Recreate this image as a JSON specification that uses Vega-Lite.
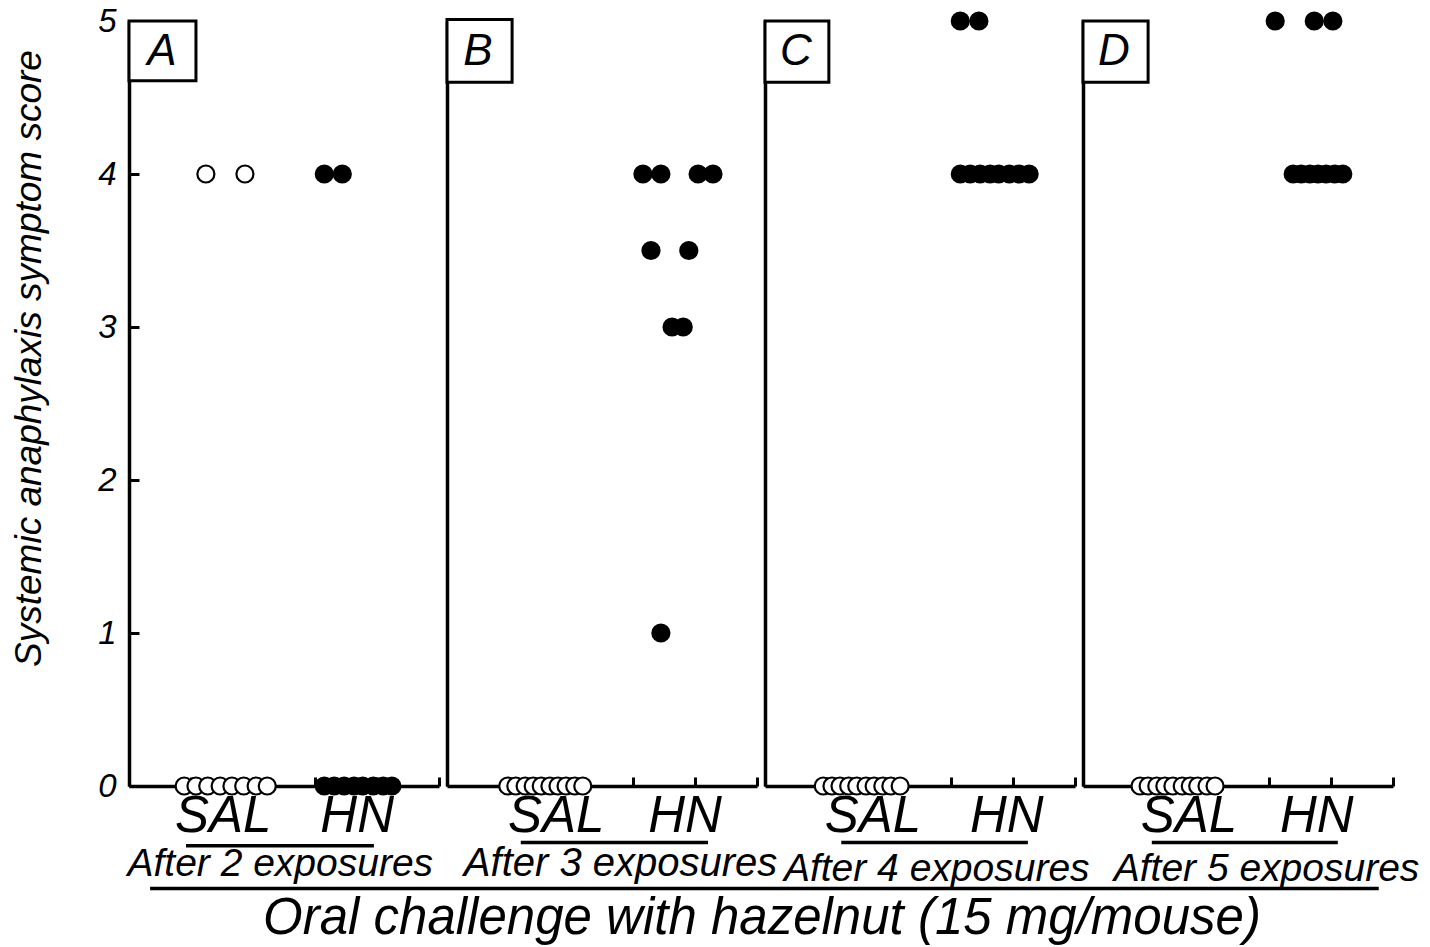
{
  "$schema": "https://vega.github.io/schema/vega-lite/v6.json",
  "autosize": {"type": "pad"},
  "padding": {"left": 10, "top": 5, "right": 0, "bottom": 0},
  "background": "white",
  "spacing": 8,
  "bounds": "flush",
  "config": {
    "view": {"stroke": null},
    "axis": {"grid": false, "domainColor": "black", "domainWidth": 3.5, "tickColor": "black", "tickWidth": 3, "labelColor": "black", "titleColor": "black"}
  },
  "datasets": {
    "points": [
      {"panel": "A", "group": "SAL", "x": 1.24, "score": 4},
      {"panel": "A", "group": "SAL", "x": 1.87, "score": 4},
      {"panel": "A", "group": "SAL", "x": 0.89, "score": 0},
      {"panel": "A", "group": "SAL", "x": 1.08, "score": 0},
      {"panel": "A", "group": "SAL", "x": 1.27, "score": 0},
      {"panel": "A", "group": "SAL", "x": 1.47, "score": 0},
      {"panel": "A", "group": "SAL", "x": 1.66, "score": 0},
      {"panel": "A", "group": "SAL", "x": 1.85, "score": 0},
      {"panel": "A", "group": "SAL", "x": 2.05, "score": 0},
      {"panel": "A", "group": "SAL", "x": 2.23, "score": 0},
      {"panel": "A", "group": "HN", "x": 3.15, "score": 4},
      {"panel": "A", "group": "HN", "x": 3.44, "score": 4},
      {"panel": "A", "group": "HN", "x": 3.15, "score": 0},
      {"panel": "A", "group": "HN", "x": 3.31, "score": 0},
      {"panel": "A", "group": "HN", "x": 3.47, "score": 0},
      {"panel": "A", "group": "HN", "x": 3.63, "score": 0},
      {"panel": "A", "group": "HN", "x": 3.77, "score": 0},
      {"panel": "A", "group": "HN", "x": 3.94, "score": 0},
      {"panel": "A", "group": "HN", "x": 4.10, "score": 0},
      {"panel": "A", "group": "HN", "x": 4.24, "score": 0},
      {"panel": "B", "group": "SAL", "x": 0.98, "score": 0},
      {"panel": "B", "group": "SAL", "x": 1.11, "score": 0},
      {"panel": "B", "group": "SAL", "x": 1.26, "score": 0},
      {"panel": "B", "group": "SAL", "x": 1.39, "score": 0},
      {"panel": "B", "group": "SAL", "x": 1.52, "score": 0},
      {"panel": "B", "group": "SAL", "x": 1.66, "score": 0},
      {"panel": "B", "group": "SAL", "x": 1.79, "score": 0},
      {"panel": "B", "group": "SAL", "x": 1.92, "score": 0},
      {"panel": "B", "group": "SAL", "x": 2.06, "score": 0},
      {"panel": "B", "group": "SAL", "x": 2.19, "score": 0},
      {"panel": "B", "group": "HN", "x": 3.16, "score": 4},
      {"panel": "B", "group": "HN", "x": 3.45, "score": 4},
      {"panel": "B", "group": "HN", "x": 4.05, "score": 4},
      {"panel": "B", "group": "HN", "x": 4.29, "score": 4},
      {"panel": "B", "group": "HN", "x": 3.29, "score": 3.5},
      {"panel": "B", "group": "HN", "x": 3.90, "score": 3.5},
      {"panel": "B", "group": "HN", "x": 3.63, "score": 3},
      {"panel": "B", "group": "HN", "x": 3.81, "score": 3},
      {"panel": "B", "group": "HN", "x": 3.45, "score": 1},
      {"panel": "C", "group": "SAL", "x": 0.94, "score": 0},
      {"panel": "C", "group": "SAL", "x": 1.08, "score": 0},
      {"panel": "C", "group": "SAL", "x": 1.21, "score": 0},
      {"panel": "C", "group": "SAL", "x": 1.35, "score": 0},
      {"panel": "C", "group": "SAL", "x": 1.48, "score": 0},
      {"panel": "C", "group": "SAL", "x": 1.63, "score": 0},
      {"panel": "C", "group": "SAL", "x": 1.76, "score": 0},
      {"panel": "C", "group": "SAL", "x": 1.90, "score": 0},
      {"panel": "C", "group": "SAL", "x": 2.03, "score": 0},
      {"panel": "C", "group": "SAL", "x": 2.18, "score": 0},
      {"panel": "C", "group": "HN", "x": 3.15, "score": 5},
      {"panel": "C", "group": "HN", "x": 3.45, "score": 5},
      {"panel": "C", "group": "HN", "x": 3.15, "score": 4},
      {"panel": "C", "group": "HN", "x": 3.31, "score": 4},
      {"panel": "C", "group": "HN", "x": 3.47, "score": 4},
      {"panel": "C", "group": "HN", "x": 3.63, "score": 4},
      {"panel": "C", "group": "HN", "x": 3.77, "score": 4},
      {"panel": "C", "group": "HN", "x": 3.94, "score": 4},
      {"panel": "C", "group": "HN", "x": 4.10, "score": 4},
      {"panel": "C", "group": "HN", "x": 4.26, "score": 4},
      {"panel": "D", "group": "SAL", "x": 0.92, "score": 0},
      {"panel": "D", "group": "SAL", "x": 1.05, "score": 0},
      {"panel": "D", "group": "SAL", "x": 1.19, "score": 0},
      {"panel": "D", "group": "SAL", "x": 1.32, "score": 0},
      {"panel": "D", "group": "SAL", "x": 1.45, "score": 0},
      {"panel": "D", "group": "SAL", "x": 1.60, "score": 0},
      {"panel": "D", "group": "SAL", "x": 1.73, "score": 0},
      {"panel": "D", "group": "SAL", "x": 1.85, "score": 0},
      {"panel": "D", "group": "SAL", "x": 2.00, "score": 0},
      {"panel": "D", "group": "SAL", "x": 2.13, "score": 0},
      {"panel": "D", "group": "HN", "x": 3.10, "score": 5},
      {"panel": "D", "group": "HN", "x": 3.73, "score": 5},
      {"panel": "D", "group": "HN", "x": 4.03, "score": 5},
      {"panel": "D", "group": "HN", "x": 3.39, "score": 4},
      {"panel": "D", "group": "HN", "x": 3.52, "score": 4},
      {"panel": "D", "group": "HN", "x": 3.66, "score": 4},
      {"panel": "D", "group": "HN", "x": 3.79, "score": 4},
      {"panel": "D", "group": "HN", "x": 3.92, "score": 4},
      {"panel": "D", "group": "HN", "x": 4.06, "score": 4},
      {"panel": "D", "group": "HN", "x": 4.19, "score": 4}
    ],
    "labels": [
      {"panel": "A", "label": "SAL", "x": 1.52},
      {"panel": "A", "label": "HN", "x": 3.68},
      {"panel": "B", "label": "SAL", "x": 1.76},
      {"panel": "B", "label": "HN", "x": 3.84},
      {"panel": "C", "label": "SAL", "x": 1.74},
      {"panel": "C", "label": "HN", "x": 3.90},
      {"panel": "D", "label": "SAL", "x": 1.71},
      {"panel": "D", "label": "HN", "x": 3.77}
    ]
  },
  "hconcat": [
    {
      "width": 310, "height": 765,
      "layer": [
        {
          "data": {"name": "points"},
          "transform": [{"filter": "datum.panel === 'A'"}],
          "mark": {"type": "circle", "size": 290, "stroke": "black", "strokeWidth": 2.2, "opacity": 1},
          "encoding": {
            "x": {"field": "x", "type": "quantitative", "scale": {"domain": [0, 5], "nice": false, "zero": false},
                  "axis": {"values": [0, 1, 2, 3, 4, 5], "labels": false, "title": null, "tickSize": -9}},
            "y": {"field": "score", "type": "quantitative", "scale": {"domain": [0, 5], "nice": false},
                  "axis": {"values": [0, 1, 2, 3, 4, 5], "format": "d", "tickSize": -10, "labelFont": "Liberation Sans", "labelFontStyle": "italic", "labelFontSize": 33, "labelPadding": 23,
                           "title": "Systemic anaphylaxis symptom score", "titleFont": "Liberation Sans", "titleFontStyle": "italic", "titleFontWeight": "normal", "titleFontSize": 37, "titlePadding": 49, "titleY": 337}},
            "fill": {"field": "group", "type": "nominal", "scale": {"domain": ["SAL", "HN"], "range": ["white", "black"]}, "legend": null}
          }
        },
        {
          "data": {"values": [{}]},
          "mark": {"type": "rect", "fill": "white", "stroke": "black", "strokeWidth": 3},
          "encoding": {"x": {"datum": 0}, "x2": {"datum": 1.08}, "y": {"datum": 5}, "y2": {"datum": 4.61}}
        },
        {
          "data": {"values": [{}]},
          "mark": {"type": "text", "text": "A", "font": "Liberation Sans", "fontStyle": "italic", "fontSize": 44, "align": "center", "baseline": "middle", "color": "black"},
          "encoding": {"x": {"datum": 0.53}, "y": {"datum": 4.8}}
        },
        {
          "data": {"name": "labels"},
          "transform": [{"filter": "datum.panel === 'A'"}],
          "mark": {"type": "text", "font": "Liberation Sans", "fontStyle": "italic", "fontSize": 51, "align": "center", "baseline": "middle", "color": "black"},
          "encoding": {"x": {"field": "x", "type": "quantitative"}, "y": {"datum": -0.2}, "text": {"field": "label"}}
        },
        {
          "data": {"values": [{}]},
          "mark": {"type": "rule", "color": "black", "strokeWidth": 3.5},
          "encoding": {"x": {"datum": 0.92}, "x2": {"datum": 3.95}, "y": {"datum": -0.39}}
        },
        {
          "data": {"values": [{}]},
          "mark": {"type": "text", "text": "After 2 exposures", "font": "Liberation Sans", "fontStyle": "italic", "fontSize": 39, "align": "center", "baseline": "middle", "color": "black"},
          "encoding": {"x": {"datum": 2.44}, "y": {"datum": -0.51}}
        },
        {
          "data": {"values": [{}]},
          "mark": {"type": "rule", "color": "black", "strokeWidth": 3.5},
          "encoding": {"x": {"datum": 0.34}, "x2": {"datum": 5.13}, "y": {"datum": -0.67}}
        }
      ]
    },
    {
      "width": 310, "height": 765,
      "layer": [
        {
          "data": {"name": "points"},
          "transform": [{"filter": "datum.panel === 'B'"}],
          "mark": {"type": "circle", "size": 290, "stroke": "black", "strokeWidth": 2.2, "opacity": 1},
          "encoding": {
            "x": {"field": "x", "type": "quantitative", "scale": {"domain": [0, 5], "nice": false, "zero": false},
                  "axis": {"values": [0, 1, 2, 3, 4, 5], "labels": false, "title": null, "tickSize": -9}},
            "y": {"field": "score", "type": "quantitative", "scale": {"domain": [0, 5], "nice": false},
                  "axis": {"labels": false, "ticks": false, "title": null}},
            "fill": {"field": "group", "type": "nominal", "scale": {"domain": ["SAL", "HN"], "range": ["white", "black"]}, "legend": null}
          }
        },
        {
          "data": {"values": [{}]},
          "mark": {"type": "rect", "fill": "white", "stroke": "black", "strokeWidth": 3},
          "encoding": {"x": {"datum": 0}, "x2": {"datum": 1.05}, "y": {"datum": 5.01}, "y2": {"datum": 4.6}}
        },
        {
          "data": {"values": [{}]},
          "mark": {"type": "text", "text": "B", "font": "Liberation Sans", "fontStyle": "italic", "fontSize": 44, "align": "center", "baseline": "middle", "color": "black"},
          "encoding": {"x": {"datum": 0.5}, "y": {"datum": 4.8}}
        },
        {
          "data": {"name": "labels"},
          "transform": [{"filter": "datum.panel === 'B'"}],
          "mark": {"type": "text", "font": "Liberation Sans", "fontStyle": "italic", "fontSize": 51, "align": "center", "baseline": "middle", "color": "black"},
          "encoding": {"x": {"field": "x", "type": "quantitative"}, "y": {"datum": -0.2}, "text": {"field": "label"}}
        },
        {
          "data": {"values": [{}]},
          "mark": {"type": "rule", "color": "black", "strokeWidth": 3.5},
          "encoding": {"x": {"datum": 1.19}, "x2": {"datum": 4.21}, "y": {"datum": -0.37}}
        },
        {
          "data": {"values": [{}]},
          "mark": {"type": "text", "text": "After 3 exposures", "font": "Liberation Sans", "fontStyle": "italic", "fontSize": 40, "align": "center", "baseline": "middle", "color": "black"},
          "encoding": {"x": {"datum": 2.8}, "y": {"datum": -0.51}}
        },
        {
          "data": {"values": [{}]},
          "mark": {"type": "rule", "color": "black", "strokeWidth": 3.5},
          "encoding": {"x": {"datum": 0}, "x2": {"datum": 5.13}, "y": {"datum": -0.67}}
        },
        {
          "data": {"values": [{}]},
          "mark": {"type": "text", "text": "Oral challenge with hazelnut (15 mg/mouse)", "font": "Liberation Sans", "fontStyle": "italic", "fontSize": 51, "align": "center", "baseline": "middle", "color": "black"},
          "encoding": {"x": {"datum": 5.08}, "y": {"datum": -0.87}}
        }
      ]
    },
    {
      "width": 310, "height": 765,
      "layer": [
        {
          "data": {"name": "points"},
          "transform": [{"filter": "datum.panel === 'C'"}],
          "mark": {"type": "circle", "size": 290, "stroke": "black", "strokeWidth": 2.2, "opacity": 1},
          "encoding": {
            "x": {"field": "x", "type": "quantitative", "scale": {"domain": [0, 5], "nice": false, "zero": false},
                  "axis": {"values": [0, 1, 2, 3, 4, 5], "labels": false, "title": null, "tickSize": -9}},
            "y": {"field": "score", "type": "quantitative", "scale": {"domain": [0, 5], "nice": false},
                  "axis": {"labels": false, "ticks": false, "title": null}},
            "fill": {"field": "group", "type": "nominal", "scale": {"domain": ["SAL", "HN"], "range": ["white", "black"]}, "legend": null}
          }
        },
        {
          "data": {"values": [{}]},
          "mark": {"type": "rect", "fill": "white", "stroke": "black", "strokeWidth": 3},
          "encoding": {"x": {"datum": 0}, "x2": {"datum": 1.03}, "y": {"datum": 5}, "y2": {"datum": 4.6}}
        },
        {
          "data": {"values": [{}]},
          "mark": {"type": "text", "text": "C", "font": "Liberation Sans", "fontStyle": "italic", "fontSize": 44, "align": "center", "baseline": "middle", "color": "black"},
          "encoding": {"x": {"datum": 0.5}, "y": {"datum": 4.8}}
        },
        {
          "data": {"name": "labels"},
          "transform": [{"filter": "datum.panel === 'C'"}],
          "mark": {"type": "text", "font": "Liberation Sans", "fontStyle": "italic", "fontSize": 51, "align": "center", "baseline": "middle", "color": "black"},
          "encoding": {"x": {"field": "x", "type": "quantitative"}, "y": {"datum": -0.2}, "text": {"field": "label"}}
        },
        {
          "data": {"values": [{}]},
          "mark": {"type": "rule", "color": "black", "strokeWidth": 3.5},
          "encoding": {"x": {"datum": 1.23}, "x2": {"datum": 4.24}, "y": {"datum": -0.37}}
        },
        {
          "data": {"values": [{}]},
          "mark": {"type": "text", "text": "After 4 exposures", "font": "Liberation Sans", "fontStyle": "italic", "fontSize": 39, "align": "center", "baseline": "middle", "color": "black"},
          "encoding": {"x": {"datum": 2.77}, "y": {"datum": -0.54}}
        },
        {
          "data": {"values": [{}]},
          "mark": {"type": "rule", "color": "black", "strokeWidth": 3.5},
          "encoding": {"x": {"datum": 0}, "x2": {"datum": 5.13}, "y": {"datum": -0.67}}
        }
      ]
    },
    {
      "width": 310, "height": 765,
      "layer": [
        {
          "data": {"name": "points"},
          "transform": [{"filter": "datum.panel === 'D'"}],
          "mark": {"type": "circle", "size": 290, "stroke": "black", "strokeWidth": 2.2, "opacity": 1},
          "encoding": {
            "x": {"field": "x", "type": "quantitative", "scale": {"domain": [0, 5], "nice": false, "zero": false},
                  "axis": {"values": [0, 1, 2, 3, 4, 5], "labels": false, "title": null, "tickSize": -9}},
            "y": {"field": "score", "type": "quantitative", "scale": {"domain": [0, 5], "nice": false},
                  "axis": {"labels": false, "ticks": false, "title": null}},
            "fill": {"field": "group", "type": "nominal", "scale": {"domain": ["SAL", "HN"], "range": ["white", "black"]}, "legend": null}
          }
        },
        {
          "data": {"values": [{}]},
          "mark": {"type": "rect", "fill": "white", "stroke": "black", "strokeWidth": 3},
          "encoding": {"x": {"datum": 0}, "x2": {"datum": 1.05}, "y": {"datum": 5}, "y2": {"datum": 4.6}}
        },
        {
          "data": {"values": [{}]},
          "mark": {"type": "text", "text": "D", "font": "Liberation Sans", "fontStyle": "italic", "fontSize": 44, "align": "center", "baseline": "middle", "color": "black"},
          "encoding": {"x": {"datum": 0.5}, "y": {"datum": 4.8}}
        },
        {
          "data": {"name": "labels"},
          "transform": [{"filter": "datum.panel === 'D'"}],
          "mark": {"type": "text", "font": "Liberation Sans", "fontStyle": "italic", "fontSize": 51, "align": "center", "baseline": "middle", "color": "black"},
          "encoding": {"x": {"field": "x", "type": "quantitative"}, "y": {"datum": -0.2}, "text": {"field": "label"}}
        },
        {
          "data": {"values": [{}]},
          "mark": {"type": "rule", "color": "black", "strokeWidth": 3.5},
          "encoding": {"x": {"datum": 1.11}, "x2": {"datum": 4.11}, "y": {"datum": -0.37}}
        },
        {
          "data": {"values": [{}]},
          "mark": {"type": "text", "text": "After 5 exposures", "font": "Liberation Sans", "fontStyle": "italic", "fontSize": 39, "align": "center", "baseline": "middle", "color": "black"},
          "encoding": {"x": {"datum": 2.96}, "y": {"datum": -0.54}}
        },
        {
          "data": {"values": [{}]},
          "mark": {"type": "rule", "color": "black", "strokeWidth": 3.5},
          "encoding": {"x": {"datum": 0}, "x2": {"datum": 4.77}, "y": {"datum": -0.67}}
        }
      ]
    }
  ]
}
